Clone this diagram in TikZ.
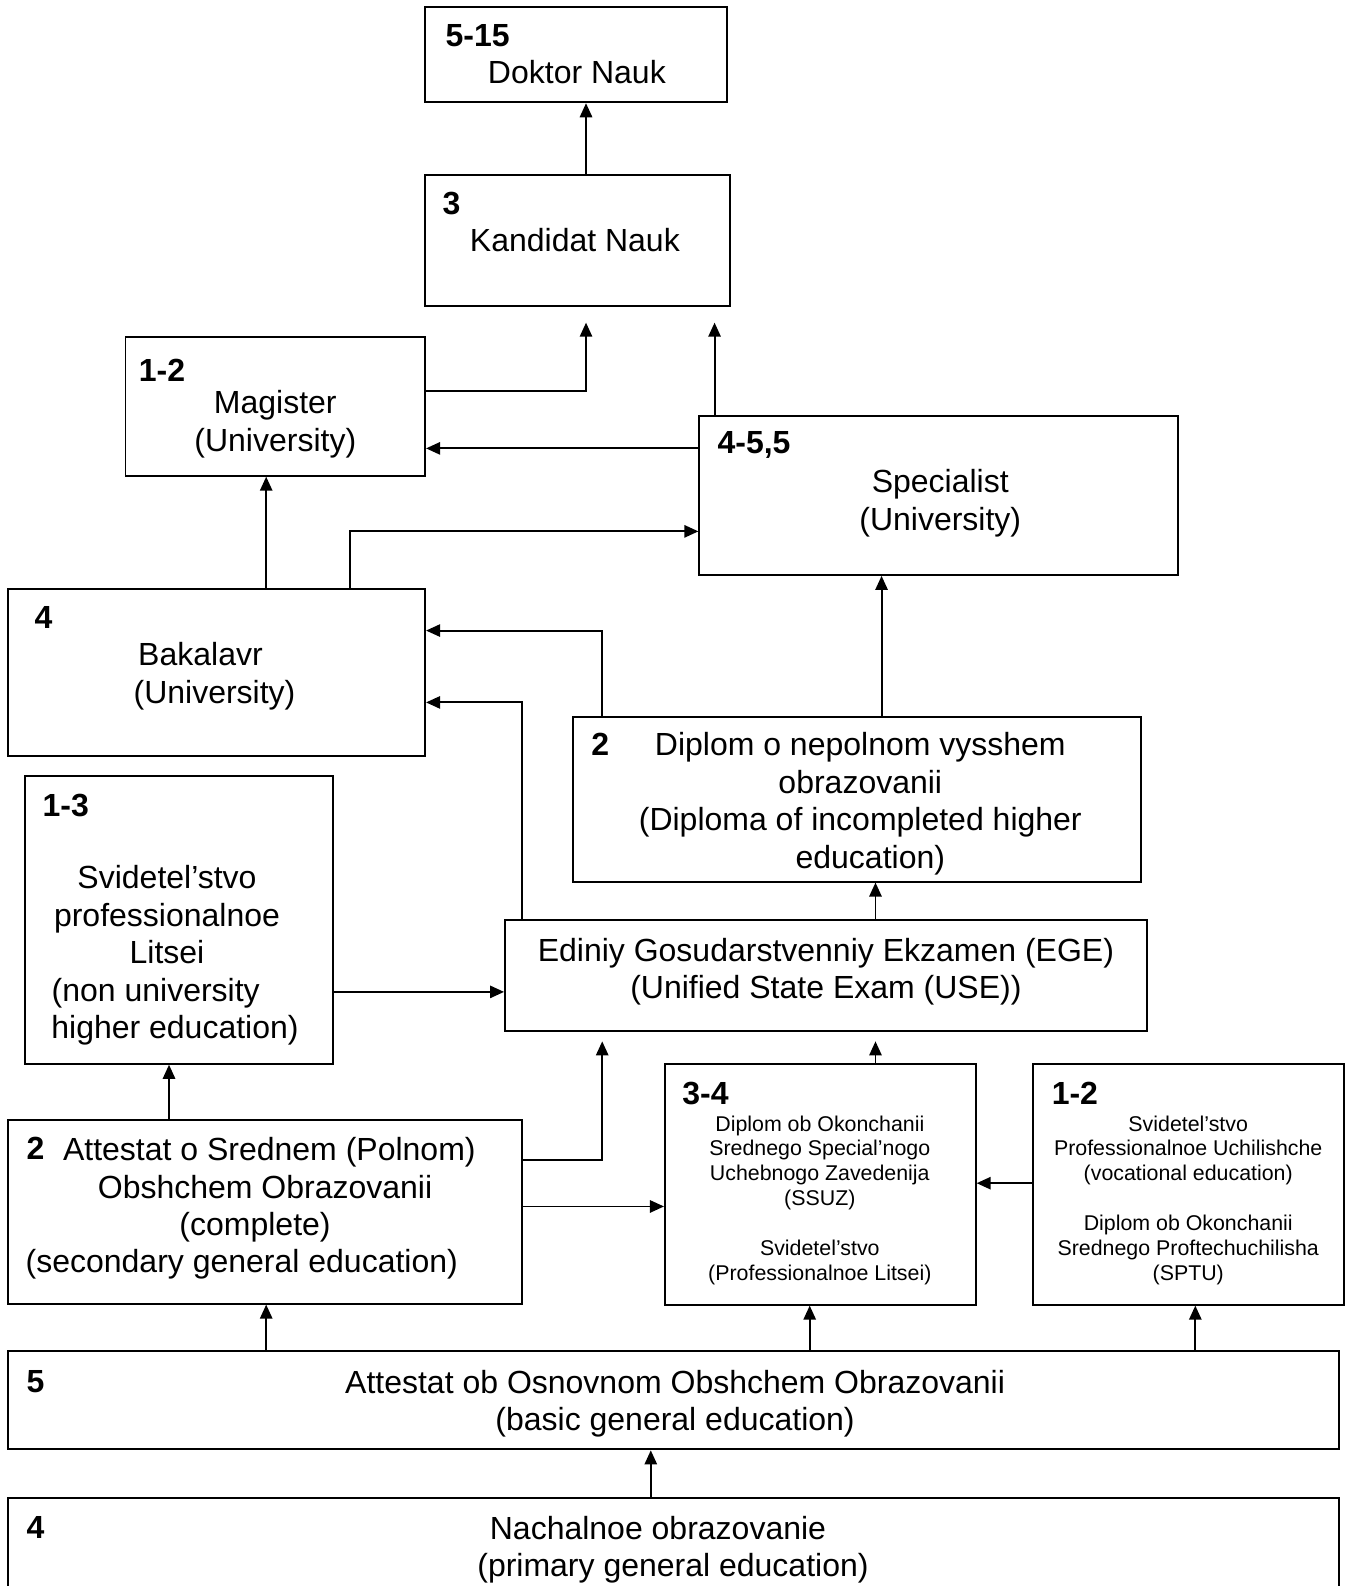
\documentclass[tikz,border=0pt]{standalone}
\usepackage{fontspec}
\setmainfont{Liberation Sans}
\usetikzlibrary{positioning, fit, arrows.meta}

\newcommand{\shiftpad}[1]{\rule{#1}{0pt}}

\tikzset{
    box/.style={draw, line width=1.1pt, inner sep=0pt},
    num/.style={font=\fontsize{18.2}{21.3}\selectfont\bfseries},
    txt/.style={align=center, font=\fontsize{18.2}{21.3}\selectfont},
    small/.style={align=center, font=\fontsize{12.15}{14.2}\selectfont},
    link/.style={line width=1.1pt, -{Triangle[length=8pt, width=7pt]}},
}

\begin{document}
\begin{tikzpicture}[x=0.02024cm, y=-0.02024cm]
    % boxes
    \node[box, fit={(420,7) (718,101)}] (doktor) {};
    \node[box, fit={(420,173) (721,302)}] (kandidat) {};
    \node[box, fit={(124,333) (420,470)}] (magister) {};
    \node[box, fit={(691,411) (1164,568)}] (specialist) {};
    \node[box, fit={(8,582) (420,747)}] (bakalavr) {};
    \node[box, fit={(566,708) (1127,871)}] (nepolnoe) {};
    \node[box, fit={(25,767) (329,1051)}] (litsei) {};
    \node[box, fit={(499,909) (1133,1019)}] (ege) {};
    \node[box, fit={(8,1107) (516,1288)}] (polnoe) {};
    \node[box, fit={(657,1051) (964,1289)}] (ssuz) {};
    \node[box, fit={(1021,1051) (1328,1289)}] (sptu) {};
    \node[box, fit={(8,1335) (1323,1432)}] (osnovnoe) {};
    \node[box, fit={(8,1480) (1323,1600)}] (nachalnoe) {};

    % texts
    \node[num] (doktor-n) at (472,35) {5-15};
    \node[txt] (doktor-t) at (570,71) {Doktor Nauk};
    \node[num] (kandidat-n) at (446,201) {3};
    \node[txt] (kandidat-t) at (568,237) {Kandidat Nauk};
    \node[num] (magister-n) at (160,366) {1-2};
    \node[txt] (magister-t) at (272,419) {Magister\\(University)};
    \node[num] (specialist-n) at (745,440) {4-5,5};
    \node[txt] (specialist-t) at (929,497) {Specialist\\(University)};
    \node[num] (bakalavr-n) at (43,610) {4};
    \node[txt] (bakalavr-t) at (205,668) {Bakalavr\shiftpad{0.28cm}\\\shiftpad{0.28cm}(University)};
    \node[num] (nepolnoe-n) at (593,735) {2};
    \node[txt] (nepolnoe-t) at (850,794) {Diplom o nepolnom vysshem\\obrazovanii\\(Diploma of incompleted higher\\\shiftpad{0.4cm}education)};
    \node[num] (litsei-n) at (65,796) {1-3};
    \node[txt] (litsei-t) at (165,944) {Svidetel’stvo\\professionalnoe\\Litsei\\(non university\shiftpad{0.45cm}\\\shiftpad{0.32cm}higher education)};
    \node[txt] (ege-t) at (816,960) {Ediniy Gosudarstvenniy Ekzamen (EGE)\\(Unified State Exam (USE))};
    \node[num] (polnoe-n) at (35,1135) {2};
    \node[txt] (polnoe-t) at (252,1194) {\shiftpad{0.57cm}Attestat o Srednem (Polnom)\\\shiftpad{0.4cm}Obshchem Obrazovanii\\(complete)\\(secondary general education)\shiftpad{0.53cm}};
    \node[num] (ssuz-n) at (697,1080) {3-4};
    \node[small] (ssuz-t) at (810,1186) {Diplom ob Okonchanii\\Srednego Special’nogo\\Uchebnogo Zavedenija\\(SSUZ)\\[14.2pt]Svidetel’stvo\\(Professionalnoe Litsei)};
    \node[num] (sptu-n) at (1062,1080) {1-2};
    \node[small] (sptu-t) at (1174,1186) {Svidetel’stvo\\Professionalnoe Uchilishche\\(vocational education)\\[14.2pt]Diplom ob Okonchanii\\Srednego Proftechuchilisha\\(SPTU)};
    \node[num] (osnovnoe-n) at (35,1365) {5};
    \node[txt] (osnovnoe-t) at (667,1387) {Attestat ob Osnovnom Obshchem Obrazovanii\\(basic general education)};
    \node[num] (nachalnoe-n) at (35,1509) {4};
    \node[txt] (nachalnoe-t) at (658,1531) {Nachalnoe obrazovanie\shiftpad{0.32cm}\\\shiftpad{0.28cm}(primary general education)};

    % connectors
    \draw[link] (579,0 |- kandidat.north) -- (579,0 |- doktor.south);
    \draw[link, shorten >=0.32cm] (magister.east |- 0,386) -| (579,0 |- kandidat.south);
    \draw[link, shorten >=0.32cm] (706,0 |- specialist.north) -- (706,0 |- kandidat.south);
    \draw[link] (specialist.west |- 0,443) -- (magister.east |- 0,443);
    \draw[link] (263,0 |- bakalavr.north) -- (263,0 |- magister.south);
    \draw[link] (346,0 |- bakalavr.north) |- (specialist.west |- 0,525);
    \draw[link] (595,0 |- nepolnoe.north) |- (bakalavr.east |- 0,623);
    \draw[link] (516,0 |- ege.north) |- (bakalavr.east |- 0,694);
    \draw[link] (871,0 |- nepolnoe.north) -- (871,0 |- specialist.south);
    \draw[link] (865,0 |- ege.north) -- (865,0 |- nepolnoe.south);
    \draw[link] (litsei.east |- 0,980) -- (ege.west |- 0,980);
    \draw[link] (167,0 |- polnoe.north) -- (167,0 |- litsei.south);
    \draw[link, shorten >=0.18cm] (polnoe.east |- 0,1146) -| (595,0 |- ege.south);
    \draw[link] (polnoe.east |- 0,1192) -- (ssuz.west |- 0,1192);
    \draw[link, shorten >=0.18cm] (865,0 |- ssuz.north) -- (865,0 |- ege.south);
    \draw[link] (sptu.west |- 0,1169) -- (ssuz.east |- 0,1169);
    \draw[link] (263,0 |- osnovnoe.north) -- (263,0 |- polnoe.south);
    \draw[link] (800,0 |- osnovnoe.north) -- (800,0 |- ssuz.south);
    \draw[link] (1181,0 |- osnovnoe.north) -- (1181,0 |- sptu.south);
    \draw[link] (643,0 |- nachalnoe.north) -- (643,0 |- osnovnoe.south);

    \pgfresetboundingbox
    \useasboundingbox (0,0) rectangle (1331,1567);
\end{tikzpicture}
\end{document}
